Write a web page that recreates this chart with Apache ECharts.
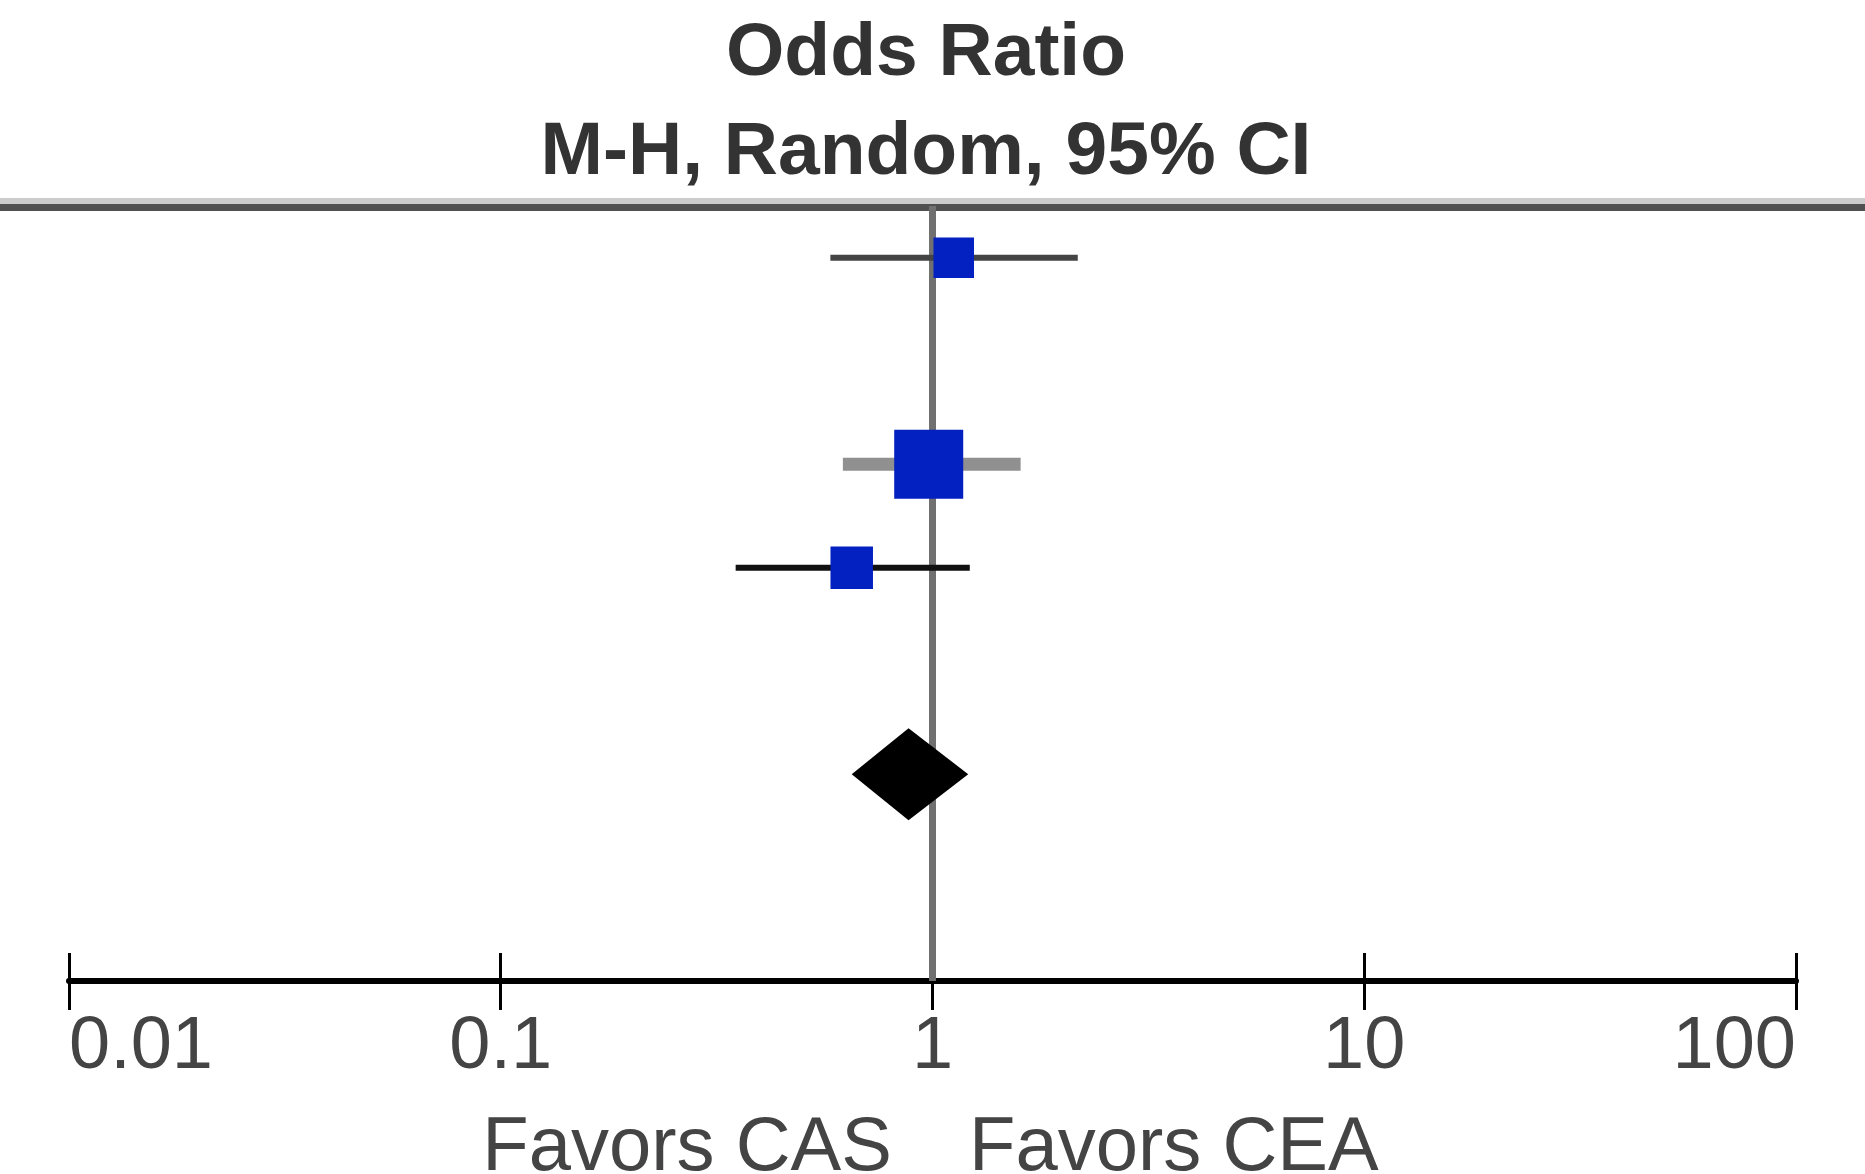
<!DOCTYPE html>
<html>
<head>
<meta charset="utf-8">
<script src="https://cdn.jsdelivr.net/npm/echarts@6/dist/echarts.min.js"></script>
<style>
html,body{margin:0;padding:0;background:#fff;}
#chart{width:1865px;height:1174px;}
</style>
</head>
<body>
<div id="chart"></div>
<script>
// ---- data ----
const studyRows = [0, 2, 3];
const studyOR = [1.12, 0.98, 0.65];
const studyLow = [0.58, 0.62, 0.35];
const studyHigh = [2.17, 1.60, 1.22];
const studyWeight = [20, 58, 22];
const pooledRow = 5;
const pooledOR = 0.88;
const pooledLow = 0.65;
const pooledHigh = 1.21;
const tickLabels = ['0.01', '0.1', '1', '10', '100'];
const titleLines = ['Odds Ratio', 'M-H, Random, 95% CI'];
const favorLeft = 'Favors CAS';
const favorRight = 'Favors CEA';

// ---- styles ----
const ciColors = ['#444444', '#909090', '#111111'];
const ciWidths = [6, 13, 6];
const squareColor = '#0320c0';
const FONT = 'Liberation Sans, Arial, sans-serif';

const chart = echarts.init(document.getElementById('chart'));

const studyData = studyRows.map((r, i) => [studyLow[i], studyHigh[i], studyOR[i], r, studyWeight[i], i]);
const pooledData = [[pooledLow, pooledHigh, pooledOR, pooledRow]];

const maxW = Math.max(...studyWeight);

const option = {
  animation: false,
  backgroundColor: '#fff',
  grid: { left: 69, right: 69, top: 206, bottom: 193, containLabel: false },
  xAxis: [
    {
      type: 'log', logBase: 10, min: 0.01, max: 100, position: 'bottom',
      axisLine: { show: true, onZero: false, lineStyle: { color: '#000', width: 6 } },
      axisTick: { show: true, inside: false, length: 29, lineStyle: { color: '#000', width: 3 } },
      axisLabel: {
        show: true, fontSize: 74, fontFamily: FONT, color: '#444', margin: 30,
        alignMinLabel: 'left', alignMaxLabel: 'right',
        formatter: v => tickLabels[Math.round(Math.log10(v)) + 2]
      },
      splitLine: { show: false }, minorTick: { show: false }
    },
    {
      type: 'log', logBase: 10, min: 0.01, max: 100, position: 'bottom', offset: 0,
      axisLine: { show: false, onZero: false },
      axisTick: { show: true, inside: true, length: 28, lineStyle: { color: '#000', width: 3 } },
      axisLabel: { show: false },
      splitLine: { show: false }
    }
  ],
  yAxis: {
    type: 'value', min: -0.5, max: 7, inverse: true, show: false,
    splitLine: { show: false }
  },
  graphic: [
    { type: 'rect', shape: { x: 0, y: 198, width: 1865, height: 6 }, style: { fill: '#cccccc' }, z: 1 },
    { type: 'rect', shape: { x: 0, y: 204, width: 1865, height: 7 }, style: { fill: '#505050' }, z: 2 },
    { type: 'text', x: 926, y: 17, style: { text: titleLines[0], fontSize: 75, fontWeight: 'bold', fontFamily: FONT, fill: '#333', align: 'center', verticalAlign: 'top' } },
    { type: 'text', x: 926, y: 116, style: { text: titleLines[1], fontSize: 75, fontWeight: 'bold', fontFamily: FONT, fill: '#333', align: 'center', verticalAlign: 'top' } },
    { type: 'text', x: 892, y: 1111, style: { text: favorLeft, fontSize: 76, fontFamily: FONT, fill: '#444', align: 'right', verticalAlign: 'top' } },
    { type: 'text', x: 969, y: 1111, style: { text: favorRight, fontSize: 76, fontFamily: FONT, fill: '#444', align: 'left', verticalAlign: 'top' } }
  ],
  series: [
    {
      type: 'custom',
      name: 'studies',
      data: studyData,
      z: 5,
      renderItem: function (params, api) {
        const lo = api.coord([api.value(0), api.value(3)]);
        const hi = api.coord([api.value(1), api.value(3)]);
        const est = api.coord([api.value(2), api.value(3)]);
        const idx = api.value(5);
        const size = 69 * Math.sqrt(api.value(4) / maxW);
        return {
          type: 'group',
          children: [
            { type: 'line', shape: { x1: lo[0], y1: lo[1], x2: hi[0], y2: hi[1] },
              style: { stroke: ciColors[idx], lineWidth: ciWidths[idx] } },
            { type: 'rect', shape: { x: est[0] - size / 2, y: est[1] - size / 2, width: size, height: size },
              style: { fill: squareColor } }
          ]
        };
      },
      markLine: {
        silent: true, symbol: 'none', label: { show: false },
        lineStyle: { color: '#707070', width: 7, type: 'solid' },
        data: [{ xAxis: 1 }]
      }
    },
    {
      type: 'custom',
      name: 'pooled',
      data: pooledData,
      z: 6,
      renderItem: function (params, api) {
        const lo = api.coord([api.value(0), api.value(3)]);
        const hi = api.coord([api.value(1), api.value(3)]);
        const est = api.coord([api.value(2), api.value(3)]);
        const h = 46;
        return {
          type: 'polygon',
          shape: { points: [[lo[0], lo[1]], [est[0], est[1] - h], [hi[0], hi[1]], [est[0], est[1] + h]] },
          style: { fill: '#000' }
        };
      }
    }
  ]
};
chart.setOption(option);
</script>
</body>
</html>
